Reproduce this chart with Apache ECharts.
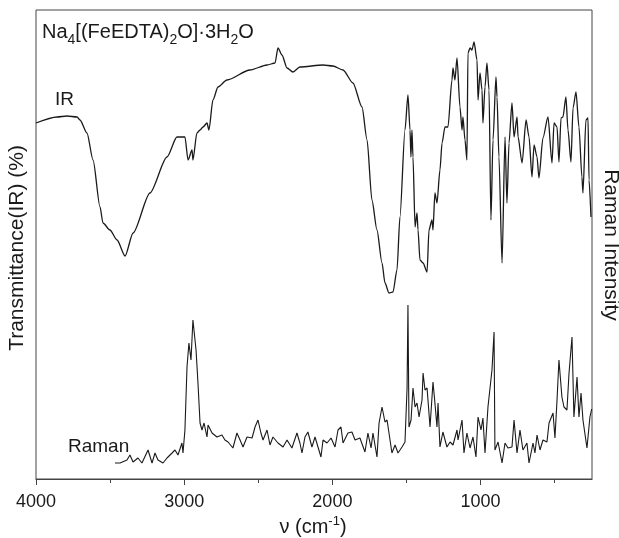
<!DOCTYPE html>
<html><head><meta charset="utf-8">
<script src="https://cdn.jsdelivr.net/npm/echarts@6/dist/echarts.min.js"></script>
<style>html,body{margin:0;padding:0;background:#fff}#c{width:619px;height:538px}</style>
</head><body><div id="c"></div>
<script>
// IR spectrum (wavenumber cm^-1, transmittance in arbitrary units 0..469)
const irWavenumber = [4000,3858,3791,3723,3703,3656,3615,3568,3548,3501,3453,3399,3345,3231,3116,3049,2995,2974,2947,2941,2914,2893,2873,2846,2833,2806,2772,2711,2556,2441,2387,2367,2340,2306,2266,2219,2063,1996,1928,1861,1800,1766,1733,1699,1665,1645,1618,1591,1564,1544,1510,1490,1476,1470,1463,1456,1442,1429,1422,1409,1388,1361,1348,1328,1321,1308,1294,1274,1260,1240,1220,1193,1186,1173,1159,1139,1125,1119,1105,1092,1085,1071,1058,1044,1024,1017,1004,990,984,970,957,943,930,916,896,889,876,855,835,822,808,788,774,754,747,720,693,673,653,639,619,606,579,545,518,504,484,471,457,444,424,410,390,376,356,336,316,309,289,275,268,255];
const irSignal = [356,362,363,362,359,346,319,272,256,249,239,223,246,286,322,342,342,319,329,319,346,349,352,356,349,379,392,399,409,414,416,431,424,411,407,412,414,413,409,396,372,339,279,249,216,196,186,187,209,262,349,384,349,322,349,322,252,266,249,219,216,207,249,259,249,286,276,309,336,352,352,399,411,399,421,372,349,362,339,319,426,431,429,437,419,379,406,389,356,392,416,389,259,339,402,382,322,216,342,276,336,376,342,362,342,316,359,342,302,334,322,301,341,362,316,356,352,317,361,362,382,349,317,371,387,352,302,286,359,361,299,262];
// Raman spectrum (wavenumber cm^-1, intensity in same arbitrary units)
const ramanWavenumber = [3467,3433,3386,3366,3345,3312,3285,3244,3217,3197,3177,3143,3116,3082,3062,3042,3015,3008,2995,2981,2968,2954,2941,2934,2920,2907,2893,2880,2866,2846,2839,2812,2779,2745,2725,2704,2671,2644,2623,2603,2576,2542,2522,2502,2482,2468,2441,2421,2401,2367,2333,2306,2273,2239,2219,2205,2185,2165,2138,2117,2097,2077,2063,2036,2009,1982,1962,1942,1928,1895,1868,1847,1814,1780,1760,1739,1726,1699,1685,1665,1645,1631,1618,1598,1577,1557,1530,1510,1496,1490,1483,1469,1456,1442,1429,1415,1395,1388,1375,1361,1341,1321,1308,1294,1287,1274,1254,1227,1206,1186,1159,1152,1125,1112,1092,1071,1051,1031,1017,997,984,970,950,923,909,903,882,855,835,815,788,774,754,734,714,687,673,646,633,619,599,579,552,538,511,498,484,471,451,437,417,403,383,370,349,336,322,309,282,262,250];
const ramanSignal = [16,16,19,24,17,21,16,29,16,26,19,16,21,26,29,24,36,26,49,112,136,119,159,149,129,96,56,49,56,42,54,46,42,44,39,37,31,46,39,32,42,41,52,59,46,39,49,34,42,36,32,39,31,46,36,26,42,47,32,42,32,22,39,36,41,32,49,52,36,46,47,39,41,27,46,31,46,22,56,72,57,59,46,26,34,26,32,37,91,174,52,59,91,72,76,62,79,106,89,91,52,97,76,52,76,32,47,32,37,34,49,39,59,26,46,31,42,22,62,49,61,26,72,109,147,29,37,16,36,31,32,59,26,49,29,36,16,36,26,44,29,39,37,56,66,41,79,119,82,72,69,106,142,62,102,62,86,59,31,62,70];
const majorTicks = [1000, 2000, 3000, 4000];
const minorTicks = [500, 1500, 2500, 3500];
const xMin = 248, xMax = 4000;

const FONT = '"Liberation Sans", Arial, sans-serif';
const zip = (a, b) => a.map((v, i) => [v, b[i]]);

const chart = echarts.init(document.getElementById('c'), null, {renderer: 'canvas'});

const mctx = document.createElement('canvas').getContext('2d');
function measure(t, size) { mctx.font = size + 'px ' + FONT; return mctx.measureText(t).width; }

function richRow(pieces, x0, yMid, baseSize, smallSize, anchor) {
  let total = 0;
  pieces.forEach(p => { total += measure(p[0], p[1] ? smallSize : baseSize); });
  let x = anchor === 'center' ? x0 - total / 2 : x0;
  const els = [];
  pieces.forEach(p => {
    const size = p[1] ? smallSize : baseSize;
    els.push({type: 'text', x: x, y: yMid + (p[1] || 0), silent: true,
      style: {text: p[0], font: size + 'px ' + FONT, fill: '#1a1a1a', align: 'left', verticalAlign: 'middle'}});
    x += measure(p[0], size);
  });
  return els;
}

const graphics = [];
graphics.push(...richRow([['Na',0],['4',8],['[(FeEDTA)',0],['2',8],['O]·3H',0],['2',8],['O',0]], 42, 32, 20, 14, 'left'));
graphics.push(...richRow([['ν (cm',0],['-1',-6],[')',0]], 313, 527, 20, 13, 'center'));
graphics.push({type:'text', x: 55, y: 100, silent: true, style:{text:'IR', font:'19px ' + FONT, fill:'#1a1a1a', verticalAlign:'middle'}});
graphics.push({type:'text', x: 68, y: 447, silent: true, style:{text:'Raman', font:'19px ' + FONT, fill:'#1a1a1a', verticalAlign:'middle'}});
graphics.push({type:'text', x: 17, y: 248, rotation: Math.PI/2, silent: true, style:{text:'Transmittance(IR) (%)', font:'21px ' + FONT, fill:'#1a1a1a', align:'center', verticalAlign:'middle'}});
graphics.push({type:'text', x: 611, y: 245, rotation: -Math.PI/2, silent: true, style:{text:'Raman Intensity', font:'21px ' + FONT, fill:'#1a1a1a', align:'center', verticalAlign:'middle'}});

const option = {
  animation: false,
  backgroundColor: '#fff',
  grid: {left: 36, right: 27, top: 10, bottom: 59, show: true, borderColor: '#444', borderWidth: 1, backgroundColor: 'transparent'},
  xAxis: [
    {type: 'value', inverse: true, min: xMin, max: xMax,
     axisLine: {show: true, lineStyle: {color: '#444', width: 1.2}},
     axisTick: {show: true, customValues: majorTicks, length: 6, inside: false, lineStyle: {color: '#444'}},
     axisLabel: {show: true, customValues: majorTicks, formatter: v => String(v), fontSize: 18, fontFamily: FONT, color: '#1a1a1a', margin: 14},
     splitLine: {show: false}},
    {type: 'value', inverse: true, min: xMin, max: xMax, gridIndex: 0, position: 'bottom',
     axisLine: {show: false},
     axisTick: {show: true, customValues: minorTicks, length: 4, inside: false, lineStyle: {color: '#444'}},
     axisLabel: {show: false}, splitLine: {show: false}}
  ],
  yAxis: {type: 'value', min: 0, max: 469, show: false, splitLine: {show: false}},
  series: [
    {name: 'IR', type: 'line', data: zip(irWavenumber, irSignal), showSymbol: false, symbol: 'none',
     smooth: 0.25, smoothMonotone: 'x',
     lineStyle: {color: '#1a1a1a', width: 1.3}},
    {name: 'Raman', type: 'line', data: zip(ramanWavenumber, ramanSignal), showSymbol: false, symbol: 'none',
     lineStyle: {color: '#1a1a1a', width: 1.1}}
  ],
  graphic: graphics
};
chart.setOption(option);
</script>
</body></html>
